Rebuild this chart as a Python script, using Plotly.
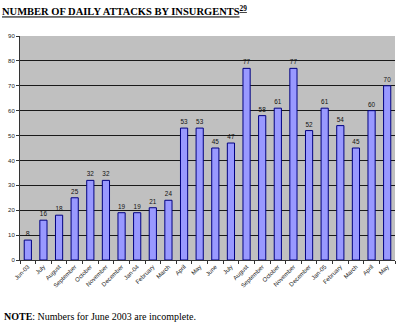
import plotly.graph_objects as go

# Monthly average of daily insurgent attacks, June 2003 - May 2005
months = ["Jun-03", "July", "August", "September", "October", "November",
          "December", "Jan-04", "February", "March", "April", "May",
          "June", "July", "August", "September", "October", "November",
          "December", "Jan-05", "February", "March", "April", "May"]
attacks = [8, 16, 18, 25, 32, 32, 19, 19, 21, 24, 53, 53,
           45, 47, 77, 58, 61, 77, 52, 61, 54, 45, 60, 70]
y_ticks = [0, 10, 20, 30, 40, 50, 60, 70, 80, 90]

positions = list(range(len(months)))

fig = go.Figure(
    go.Bar(
        x=positions,
        y=attacks,
        text=[str(v) for v in attacks],
        textposition="outside",
        textfont=dict(family="Liberation Sans, Arial", size=7, color="#111111"),
        cliponaxis=False,
        marker=dict(color="#9999ff", line=dict(color="#000080", width=1)),
        width=0.46,
    )
)

fig.update_layout(
    width=400,
    height=323,
    margin=dict(l=20, r=5, t=36, b=63),
    paper_bgcolor="white",
    plot_bgcolor="#c0c0c0",
    showlegend=False,
    title=dict(
        text="NUMBER OF DAILY ATTACKS BY INSURGENTS<sup>29</sup>",
        font=dict(family="Liberation Serif, Times New Roman", size=10.5,
                  color="black", weight="bold", lineposition="under"),
        xref="container", x=0.005, xanchor="left",
        yref="container", y=0.975, yanchor="top",
    ),
    xaxis=dict(
        range=[-0.5, len(months) - 0.5],
        tickmode="array",
        tickvals=positions,
        ticktext=months,
        tickangle=-45,
        tickfont=dict(family="Liberation Sans, Arial", size=6, color="#222222"),
        ticks="",
        showgrid=False,
        zeroline=False,
        showline=True,
        linecolor="#333333",
        linewidth=1,
        minor=dict(tick0=-0.5, dtick=1, ticks="outside", ticklen=3,
                   tickcolor="#333333", showgrid=False),
    ),
    yaxis=dict(
        range=[0, 90],
        tickvals=y_ticks,
        tickfont=dict(family="Liberation Sans, Arial", size=6, color="#222222"),
        ticks="outside",
        ticklen=3,
        tickcolor="#333333",
        showgrid=True,
        gridcolor="#1a1a1a",
        gridwidth=1,
        zeroline=False,
        showline=True,
        linecolor="#333333",
        linewidth=1,
    ),
    annotations=[
        dict(
            text="<b>NOTE</b>: Numbers for June 2003 are incomplete.",
            xref="paper", yref="paper",
            x=-0.048, y=-0.25,
            xanchor="left", yanchor="middle",
            showarrow=False,
            font=dict(family="Liberation Serif, Times New Roman", size=10, color="black"),
        )
    ],
)

fig.write_html("out.html")
